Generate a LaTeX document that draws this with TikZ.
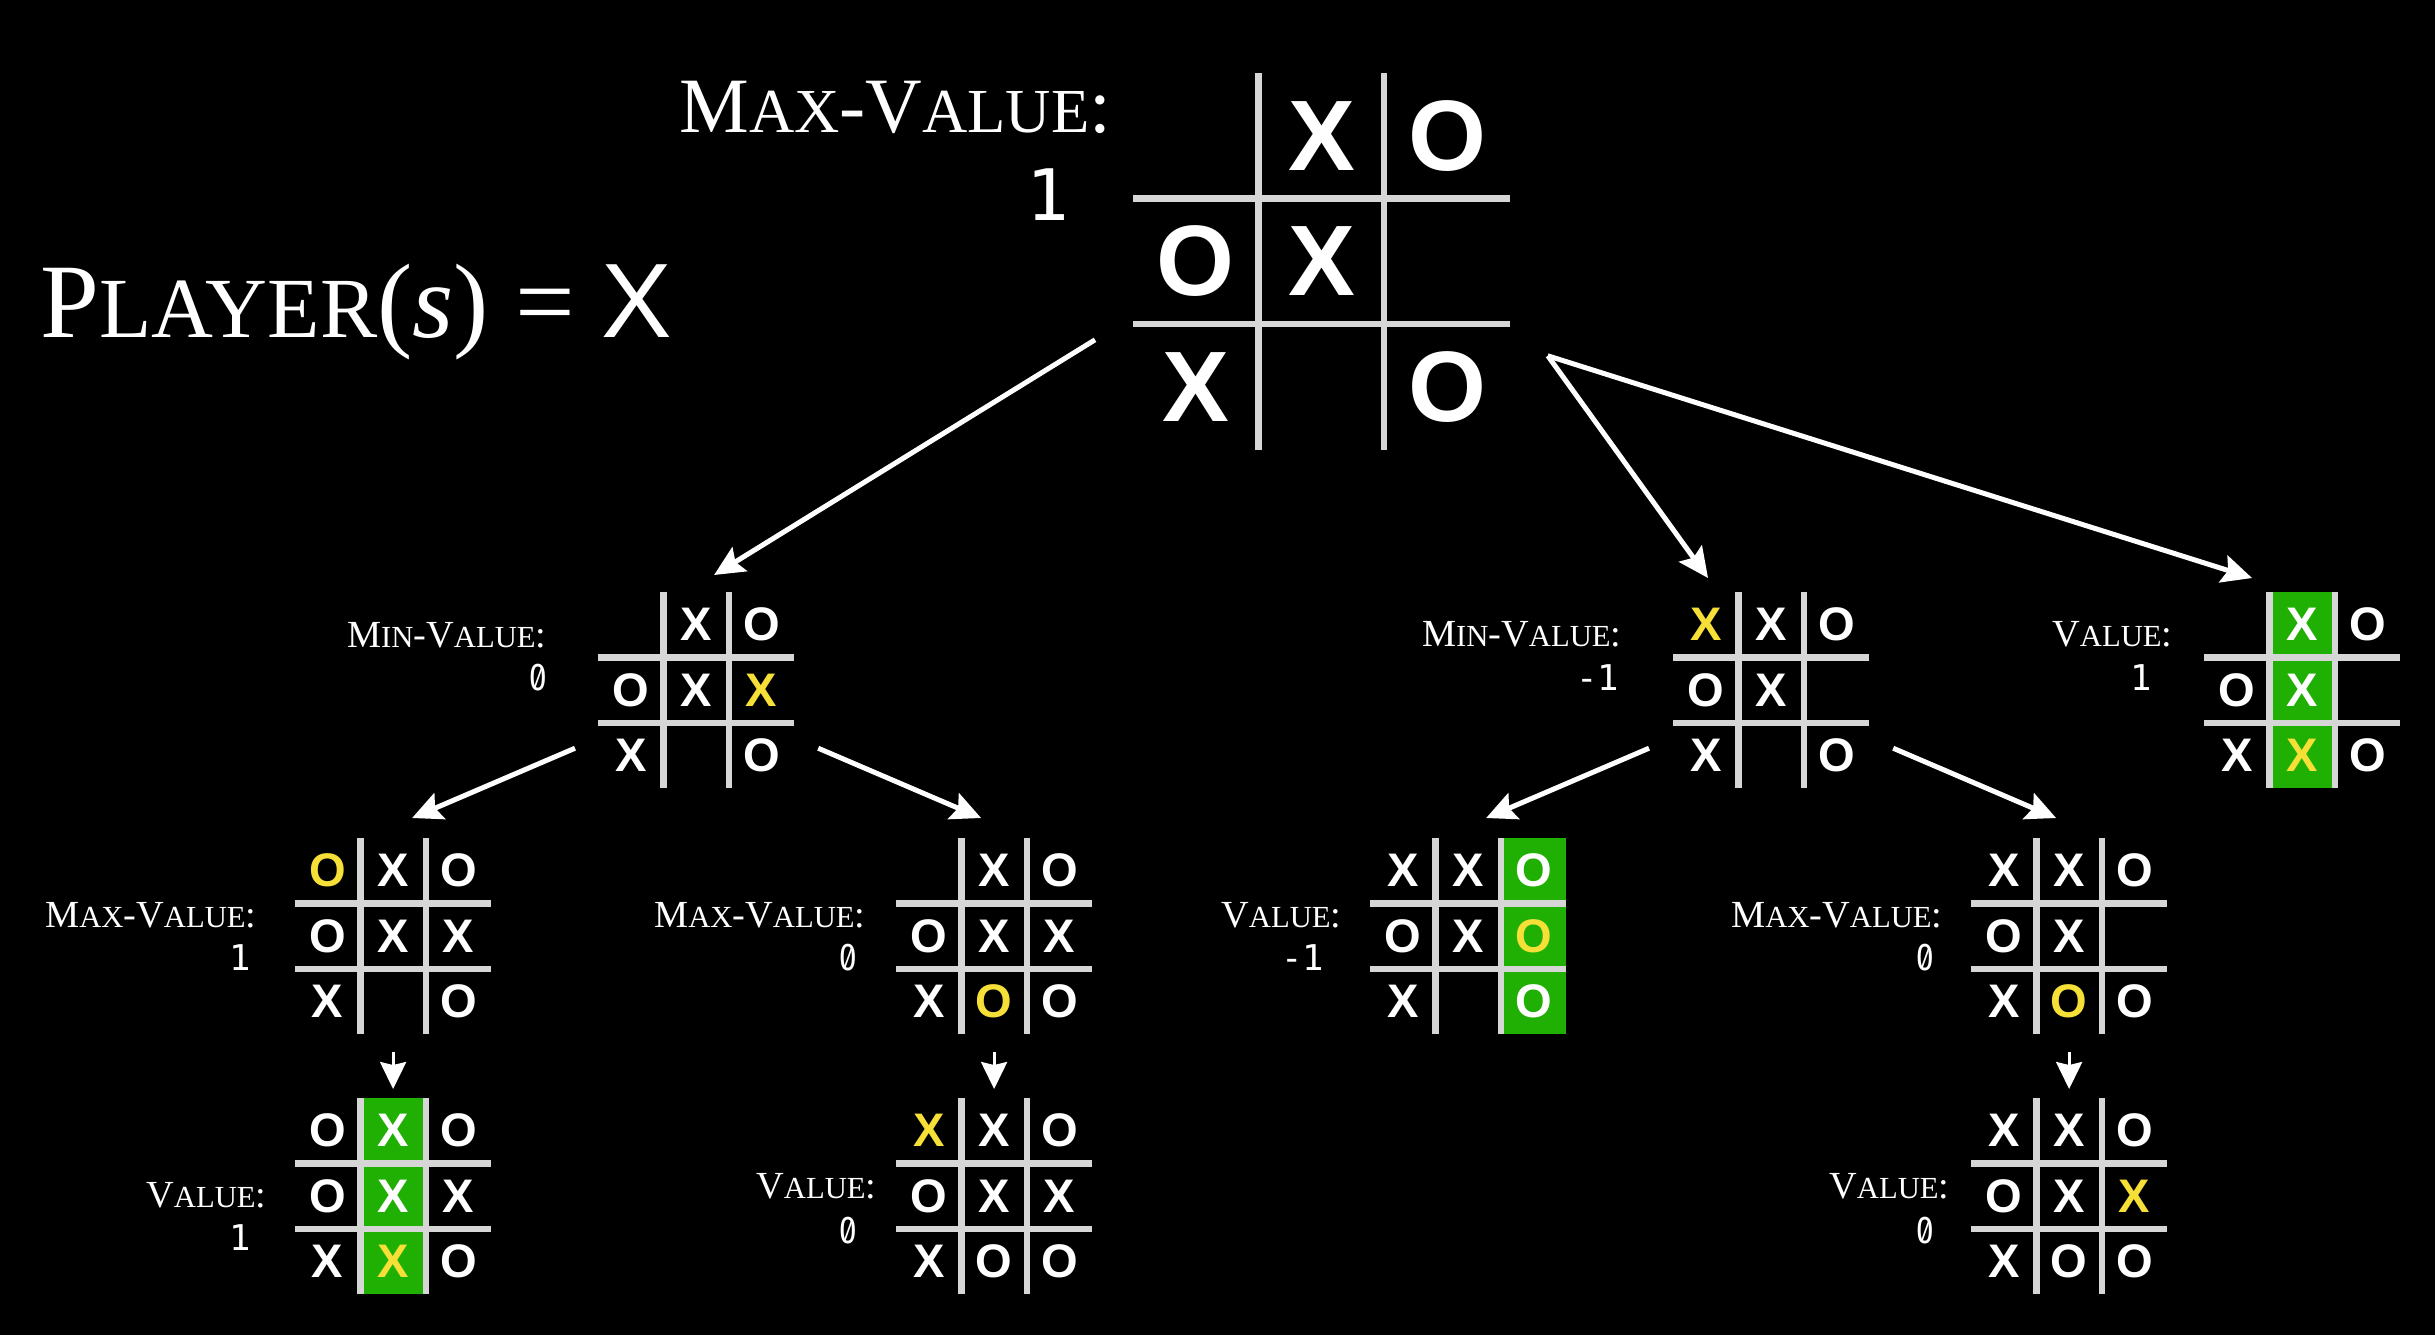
\documentclass[tikz,border=0pt]{standalone}
\usepackage{fontspec}
\usepackage{graphicx}
\usepackage{tikz}
\setmainfont{Liberation Serif}
\newfontfamily\piecefont{Liberation Sans}
\newfontfamily\scorefont{DejaVu Sans Mono}
\usetikzlibrary{arrows.meta,calc}

\definecolor{gridgray}{RGB}{214,214,214}
\definecolor{hlgreen}{RGB}{32,176,4}
\definecolor{hlyellow}{RGB}{246,224,56}

% fake small caps
\newcommand{\capsmall}[2]{#1\scalebox{0.8}{#2}}
\newcommand{\tttmax}{\capsmall{M}{AX}-\capsmall{V}{ALUE}:}
\newcommand{\tttmin}{\capsmall{M}{IN}-\capsmall{V}{ALUE}:}
\newcommand{\tttvalue}{\capsmall{V}{ALUE}:}
% slashed zero
\newcommand{\slzero}{\makebox[0.602em]{\scalebox{0.82}[1]{O}}\llap{\makebox[0.602em]{\raisebox{0.1em}{\scalebox{0.55}[0.72]{/}}}}}

% board: name, x, y (north west), cell size, piece style, pieces
\newcommand{\tttboard}[6]{%
  \node[boardbox, minimum size={3*#4*0.1mm}] (#1) at ({#2+1.5*#4},{#3+1.5*#4}) {};
  \begin{scope}[shift={(#2,#3)}]
    \foreach \k in {1,2} {
      \draw[gridline] ({\k*#4},0) -- ({\k*#4},{3*#4});
      \draw[gridline] (0,{\k*#4}) -- ({3*#4},{\k*#4});
    }
    \foreach \p/\c [count=\k from 0] in {#6} {
      \pgfmathtruncatemacro\row{\k/3}
      \pgfmathtruncatemacro\col{\k-3*\row}
      \node[#5, text=\c] at ({(\col+0.5)*#4},{(\row+0.5)*#4}) {\p};
    }
  \end{scope}
}

\tikzset{
  every node/.style={text=white},
  gridline/.style={draw=gridgray, line width=0.65mm},
  boardbox/.style={inner sep=0, outer sep=0},
  bigpiece/.style={font=\piecefont\bfseries\fontsize{28.5}{30}\selectfont, inner sep=0},
  smallpiece/.style={font=\piecefont\bfseries\fontsize{13.4}{15}\selectfont, inner sep=0},
  movearrow/.style={draw=white, line width=0.5mm, -{Stealth[length=3mm, width=2.8mm, inset=0.5mm]}},
  downarrow/.style={draw=white, line width=0.3mm, -{Stealth[length=2.7mm, width=2.6mm, inset=0.3mm]}},
  biglabel/.style={font=\fontsize{22.3}{24}\selectfont, anchor=base east, inner sep=0},
  smalllabel/.style={font=\fontsize{10.9}{12}\selectfont, anchor=base east, inner sep=0},
  bigscore/.style={font=\scorefont\fontsize{20.2}{22}\selectfont, anchor=base east, inner sep=0},
  smallscore/.style={font=\scorefont\fontsize{10.1}{12}\selectfont, anchor=base east, inner sep=0},
}

\begin{document}
\begin{tikzpicture}[x=0.1mm, y=-0.1mm]
    % Background
    \fill[black] (0,0) rectangle (2435,1335);

    \node[anchor=base west, inner sep=0, font=\fontsize{30.1}{32}\selectfont] (player) at (40,337)
        {P\scalebox{0.81}{LAYER}(\textit{s}) = {\piecefont X}};

    % Root board
    \tttboard{root}{1133}{73}{125.6}{bigpiece}{{}/white, X/white, O/white, O/white, X/white, {}/white, X/white, {}/white, O/white}
    \node[biglabel] (rootlabel) at (1112,132) {\tttmax};
    \node[bigscore] (rootscore) at (1070,220) {1};

    % Second level
    \tttboard{minL}{598}{592}{65.4}{smallpiece}{{}/white, X/white, O/white, O/white, X/white, X/hlyellow, X/white, {}/white, O/white}
    \node[smalllabel] (minLlabel) at (547,647) {\tttmin};
    \node[smallscore] (minLscore) at (550,690) {\slzero};

    \tttboard{minR}{1673}{592}{65.4}{smallpiece}{X/hlyellow, X/white, O/white, O/white, X/white, {}/white, X/white, {}/white, O/white}
    \node[smalllabel] (minRlabel) at (1622,646) {\tttmin};
    \node[smallscore] (minRscore) at (1620,690) {-1};

    \fill[hlgreen] (2269.4,592) rectangle (2334.8,788.2);
    \tttboard{winR}{2204}{592}{65.4}{smallpiece}{{}/white, X/white, O/white, O/white, X/white, {}/white, X/white, X/hlyellow, O/white}
    \node[smalllabel] (winRlabel) at (2173,646) {\tttvalue};
    \node[smallscore] (winRscore) at (2153,690) {1};

    % Third level
    \tttboard{maxLL}{295}{838}{65.4}{smallpiece}{O/hlyellow, X/white, O/white, O/white, X/white, X/white, X/white, {}/white, O/white}
    \node[smalllabel] (maxLLlabel) at (257,927) {\tttmax};
    \node[smallscore] (maxLLscore) at (252,970) {1};

    \tttboard{maxLR}{896}{838}{65.4}{smallpiece}{{}/white, X/white, O/white, O/white, X/white, X/white, X/white, O/hlyellow, O/white}
    \node[smalllabel] (maxLRlabel) at (866,927) {\tttmax};
    \node[smallscore] (maxLRscore) at (860,970) {\slzero};

    \fill[hlgreen] (1500.8,838) rectangle (1566.2,1034.2);
    \tttboard{loseR}{1370}{838}{65.4}{smallpiece}{X/white, X/white, O/white, O/white, X/white, O/hlyellow, X/white, {}/white, O/white}
    \node[smalllabel] (loseRlabel) at (1342,927) {\tttvalue};
    \node[smallscore] (loseRscore) at (1325,970) {-1};

    \tttboard{maxRR}{1971}{838}{65.4}{smallpiece}{X/white, X/white, O/white, O/white, X/white, {}/white, X/white, O/hlyellow, O/white}
    \node[smalllabel] (maxRRlabel) at (1943,927) {\tttmax};
    \node[smallscore] (maxRRscore) at (1937,970) {\slzero};

    % Terminal boards
    \fill[hlgreen] (360.4,1098) rectangle (425.8,1294.2);
    \tttboard{endLL}{295}{1098}{65.4}{smallpiece}{O/white, X/white, O/white, O/white, X/white, X/white, X/white, X/hlyellow, O/white}
    \node[smalllabel] (endLLlabel) at (267,1207) {\tttvalue};
    \node[smallscore] (endLLscore) at (252,1250) {1};

    \tttboard{endLR}{896}{1098}{65.4}{smallpiece}{X/hlyellow, X/white, O/white, O/white, X/white, X/white, X/white, O/white, O/white}
    \node[smalllabel] (endLRlabel) at (877,1198) {\tttvalue};
    \node[smallscore] (endLRscore) at (860,1243) {\slzero};

    \tttboard{endRR}{1971}{1098}{65.4}{smallpiece}{X/white, X/white, O/white, O/white, X/white, X/hlyellow, X/white, O/white, O/white}
    \node[smalllabel] (endRRlabel) at (1950,1198) {\tttvalue};
    \node[smallscore] (endRRscore) at (1937,1243) {\slzero};

    % Arrows
    \draw[movearrow] ([shift={(-38,-110)}]root.south west) -- ([shift={(18,-17)}]minL.north);
    \draw[movearrow] ([shift={(38,-94)}]root.south east) -- ([shift={(35,-14)}]minR.north west);
    \draw[movearrow] ([shift={(38,-94)}]root.south east) -- ([shift={(48,-14)}]winR.north west);
    \draw[movearrow] ([shift={(-23,-40)}]minL.south west) -- ([shift={(19,-20)}]maxLL.north);
    \draw[movearrow] ([shift={(24,-40)}]minL.south east) -- ([shift={(-13,-20)}]maxLR.north);
    \draw[movearrow] ([shift={(-24,-40)}]minR.south west) -- ([shift={(18,-20)}]loseR.north);
    \draw[movearrow] ([shift={(24,-40)}]minR.south east) -- ([shift={(-13,-20)}]maxRR.north);
    \draw[downarrow] ([yshift=-1.8mm]maxLL.south) -- ([yshift=0.9mm]endLL.north);
    \draw[downarrow] ([yshift=-1.8mm]maxLR.south) -- ([yshift=0.9mm]endLR.north);
    \draw[downarrow] ([yshift=-1.8mm]maxRR.south) -- ([yshift=0.9mm]endRR.north);
\end{tikzpicture}
\end{document}
